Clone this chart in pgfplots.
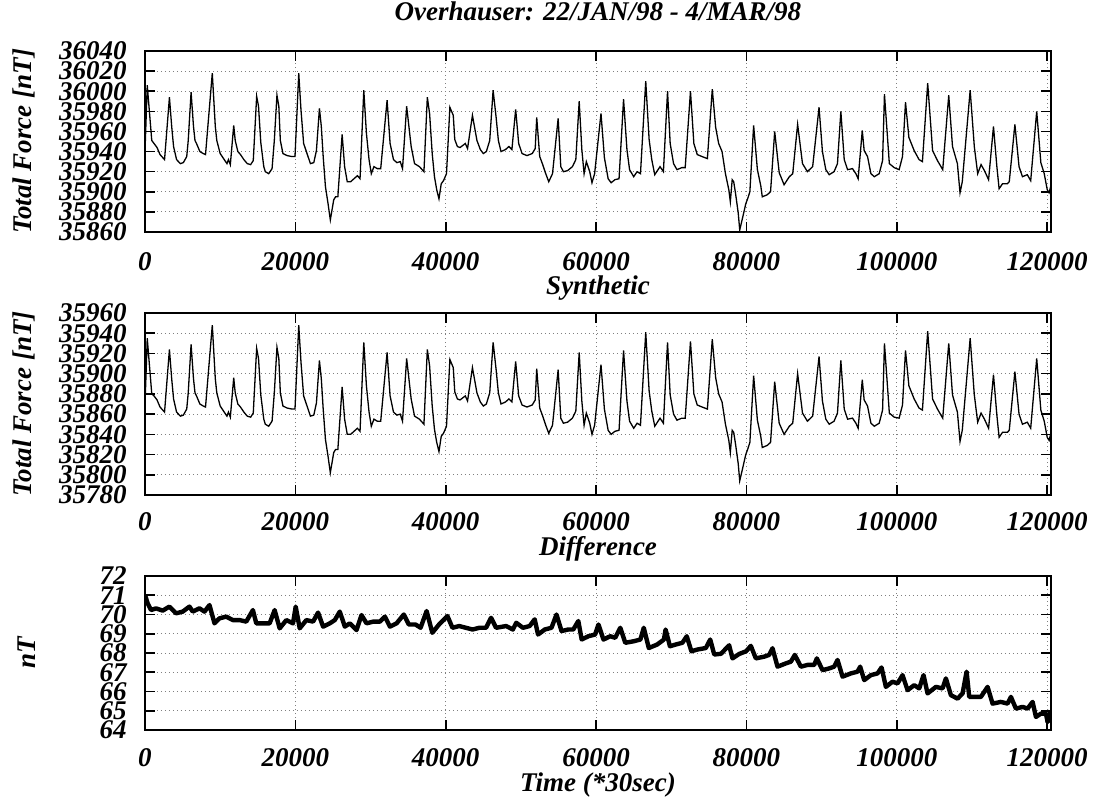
\documentclass[border=0pt]{standalone}
\usepackage{fontspec}
\setmainfont{Liberation Serif}
\usepackage{pgfplots}
\usepackage{pgfplotstable}
\pgfplotsset{compat=1.18}

% Total force (top panel)
\pgfplotstableread{
x y
0 35940
300 36006
900 35951
1200 35948
1600 35944
2000 35937
2600 35932
3250 35994
3550 35965
3800 35945
4200 35932
4700 35928
5100 35929
5550 35935
5750 35951
6130 35999
6450 35965
6650 35951
6850 35948
7300 35940
7750 35938
8050 35937
8950 36018
9350 35965
9550 35951
10000 35938
10450 35933
10900 35928
11100 35932
11350 35927
11800 35966
12000 35951
12350 35940
12700 35937
13150 35932
13600 35928
14050 35927
14400 35931
14850 35995
15100 35985
15400 35949
15800 35925
16000 35920
16450 35918
16900 35923
17200 35951
17550 35996
17800 35985
18000 35951
18350 35938
18900 35936
19550 35935
19950 35935
20450 36018
20750 35981
21100 35948
21550 35938
22000 35928
22450 35929
22800 35941
23200 35983
23450 35965
23700 35935
24000 35905
24350 35888
24650 35872
25100 35892
25350 35895
25650 35895
26220 35957
26550 35925
26900 35910
27350 35910
27800 35913
28250 35916
28600 35913
29100 36001
29450 35958
29800 35932
30100 35918
30450 35925
30900 35923
31350 35923
31700 35951
32200 35991
32600 35948
33050 35932
33500 35929
33950 35930
34250 35923
34800 35985
35400 35945
35850 35928
36500 35925
37100 35920
37550 35994
37850 35978
38200 35938
38500 35915
38800 35902
39100 35893
39400 35908
39700 35911
40100 35918
40550 35984
41000 35976
41200 35952
41550 35945
41900 35944
42600 35948
42900 35943
43550 35976
44150 35951
44600 35942
45000 35938
45400 35940
45850 35951
46300 36001
46700 35974
47000 35951
47350 35940
47950 35942
48400 35945
48800 35942
49300 35982
49700 35948
50150 35938
50800 35936
51500 35938
51900 35943
52100 35974
52500 35935
52850 35928
53300 35918
53700 35910
54200 35918
54950 35973
55300 35925
55650 35920
56200 35921
56850 35925
57300 35932
57750 35990
58100 35942
58400 35918
58700 35930
59150 35920
59450 35909
59800 35918
60650 35978
61100 35934
61600 35913
62000 35909
62500 35912
63050 35913
63650 35992
64100 35942
64450 35922
65000 35915
65450 35920
65900 35918
66600 36010
67050 35952
67400 35932
67800 35917
68500 35925
68950 35920
69500 36000
69850 35948
70300 35928
70750 35922
71400 35924
71850 35924
72550 36000
73000 35948
73450 35937
74100 35935
74800 35933
75450 36002
75900 35964
76300 35948
76750 35940
77200 35918
77650 35902
77850 35890
78100 35912
78300 35910
78550 35898
78900 35879
79100 35862
79600 35878
79900 35888
80150 35893
80450 35900
80950 35966
81450 35922
81900 35906
82100 35895
82750 35897
83200 35900
83750 35960
84350 35919
85000 35907
85700 35915
86150 35918
86800 35967
87450 35928
88100 35920
88800 35925
89650 35984
90100 35940
90550 35922
91000 35917
91650 35920
92100 35928
92550 35980
93000 35932
93450 35922
94100 35923
94550 35918
94850 35913
95400 35961
95650 35941
96100 35935
96550 35918
97000 35915
97650 35918
98100 35931
98350 35997
99000 35928
99650 35924
100300 35922
100750 35935
101150 35989
101600 35954
102300 35941
102950 35932
103400 35930
104100 36008
104750 35941
105400 35931
106100 35922
106900 35996
107400 35945
108050 35928
108400 35899
108700 35910
109750 36001
110300 35945
110750 35918
111200 35927
111650 35921
112200 35912
112850 35965
113300 35925
113600 35903
114050 35908
114700 35908
114950 35910
115700 35967
116250 35925
116700 35915
117350 35917
117800 35911
118600 35980
119150 35929
119600 35918
120000 35902
120250 35899
120450 35905
}\overhauser

% Synthetic (middle panel)
\pgfplotstableread{
x y
0 35869
300 35935
900 35880
1200 35878
1600 35874
2000 35867
2600 35862
3250 35924
3550 35895
3800 35875
4200 35862
4700 35858
5100 35859
5550 35865
5750 35881
6130 35929
6450 35895
6650 35881
6850 35878
7300 35870
7750 35868
8050 35867
8950 35948
9350 35895
9550 35881
10000 35868
10450 35863
10900 35858
11100 35862
11350 35857
11800 35896
12000 35881
12350 35870
12700 35867
13150 35862
13600 35858
14050 35857
14400 35861
14850 35925
15100 35915
15400 35879
15800 35855
16000 35850
16450 35848
16900 35853
17200 35881
17550 35926
17800 35915
18000 35881
18350 35868
18900 35866
19550 35865
19950 35865
20450 35948
20750 35911
21100 35878
21550 35868
22000 35858
22450 35859
22800 35871
23200 35913
23450 35895
23700 35865
24000 35835
24350 35818
24650 35802
25100 35822
25350 35825
25650 35825
26220 35887
26550 35855
26900 35840
27350 35840
27800 35843
28250 35846
28600 35843
29100 35931
29450 35888
29800 35862
30100 35848
30450 35855
30900 35853
31350 35853
31700 35881
32200 35921
32600 35878
33050 35862
33500 35859
33950 35860
34250 35853
34800 35915
35400 35875
35850 35858
36500 35855
37100 35850
37550 35924
37850 35908
38200 35868
38500 35845
38800 35832
39100 35823
39400 35838
39700 35841
40100 35848
40550 35914
41000 35906
41200 35882
41550 35875
41900 35874
42600 35878
42900 35873
43550 35906
44150 35881
44600 35872
45000 35868
45400 35870
45850 35881
46300 35931
46700 35904
47000 35881
47350 35870
47950 35872
48400 35875
48800 35872
49300 35912
49700 35878
50150 35869
50800 35867
51500 35869
51900 35874
52100 35905
52500 35866
52850 35859
53300 35849
53700 35841
54200 35849
54950 35904
55300 35856
55650 35851
56200 35852
56850 35856
57300 35863
57750 35921
58100 35873
58400 35849
58700 35861
59150 35851
59450 35840
59800 35849
60650 35909
61100 35865
61600 35844
62000 35840
62500 35843
63050 35844
63650 35923
64100 35873
64450 35853
65000 35846
65450 35851
65900 35849
66600 35941
67050 35883
67400 35863
67800 35848
68500 35856
68950 35851
69500 35931
69850 35879
70300 35860
70750 35854
71400 35856
71850 35856
72550 35932
73000 35880
73450 35869
74100 35867
74800 35865
75450 35934
75900 35896
76300 35880
76750 35872
77200 35850
77650 35834
77850 35822
78100 35844
78300 35842
78550 35830
78900 35811
79100 35794
79600 35810
79900 35820
80150 35825
80450 35832
80950 35898
81450 35854
81900 35838
82100 35827
82750 35829
83200 35832
83750 35892
84350 35851
85000 35840
85700 35848
86150 35851
86800 35900
87450 35861
88100 35853
88800 35858
89650 35917
90100 35873
90550 35855
91000 35850
91650 35853
92100 35861
92550 35913
93000 35865
93450 35855
94100 35856
94550 35851
94850 35846
95400 35894
95650 35874
96100 35868
96550 35851
97000 35848
97650 35851
98100 35864
98350 35930
99000 35861
99650 35857
100300 35856
100750 35869
101150 35923
101600 35888
102300 35875
102950 35866
103400 35864
104100 35942
104750 35875
105400 35865
106100 35856
106900 35930
107400 35879
108050 35862
108400 35833
108700 35844
109750 35935
110300 35879
110750 35852
111200 35861
111650 35855
112200 35846
112850 35899
113300 35859
113600 35837
114050 35842
114700 35842
114950 35844
115700 35902
116250 35860
116700 35850
117350 35852
117800 35846
118600 35915
119150 35864
119600 35853
120000 35837
120250 35834
120450 35840
}\synthetic

% Difference (bottom panel)
\pgfplotstableread{
x y
0 71.01
356 70.58
800 70.23
1467 70.32
2355 70.20
3244 70.41
4133 70.06
5022 70.15
5911 70.41
6355 70.15
7244 70.32
7911 70.15
8577 70.49
9244 69.54
9910 69.80
10799 69.89
11688 69.71
12577 69.71
13466 69.63
14354 70.23
14799 69.54
15687 69.54
16576 69.54
17243 70.23
17910 69.28
18798 69.71
19687 69.54
20043 70.41
20576 69.28
21465 69.71
22353 69.63
23020 70.10
23687 69.37
24575 69.54
25242 69.71
25909 70.15
26575 69.37
27242 69.54
28131 69.19
28797 69.97
29464 69.54
30353 69.63
31241 69.63
31908 69.89
32575 69.37
33463 69.54
34420 70.00
35090 69.48
35982 69.48
36652 69.31
37456 70.18
38214 69.05
39107 69.48
40223 69.92
40893 69.31
41786 69.40
42678 69.31
43571 69.22
44464 69.31
45357 69.31
46026 69.83
46696 69.31
48035 69.40
48928 69.22
49374 69.57
50267 69.31
51160 69.40
51830 69.75
52276 68.96
53169 69.22
54062 69.31
54731 70.00
55401 69.14
56294 69.22
56963 69.22
57633 69.66
58079 68.70
58972 68.87
59865 68.96
60311 69.48
60981 68.70
61874 68.87
62543 68.79
63213 69.31
63882 68.53
65000 68.61
65891 68.70
66338 69.31
67007 68.26
68123 68.44
69016 68.70
69239 69.22
69820 68.35
70578 68.44
71471 68.53
72052 68.87
72677 68.09
73480 68.18
74596 68.26
75176 68.70
75712 67.92
76605 67.96
77694 68.40
78137 67.72
79024 67.95
79953 68.09
80577 68.37
81242 67.72
82351 67.81
83016 67.90
83459 68.25
84125 67.29
85233 67.46
85899 67.55
86431 67.90
87229 67.29
88116 67.38
89003 67.38
89358 67.72
90112 67.11
90999 67.20
91664 67.29
92108 67.64
92773 66.77
93882 66.94
94769 67.03
95124 67.29
95656 66.59
96543 66.85
97430 66.94
97962 67.25
98538 66.24
99425 66.51
100091 66.42
100756 66.85
101421 66.07
102308 66.33
102974 66.16
103550 66.85
104083 65.90
105191 66.24
106078 66.16
106522 66.68
107187 65.81
108074 65.63
108740 65.90
109272 67.03
109626 65.72
110291 65.72
111178 65.72
112065 66.24
112730 65.37
113839 65.46
114726 65.37
115170 65.72
115835 65.11
116722 65.20
117387 65.11
118053 65.46
118497 64.68
119162 64.85
119827 64.85
120049 64.41
120404 65.02
}\difference

\newcommand{\chartfont}{\bfseries\itshape\fontsize{13.5}{14}\selectfont}

\pgfplotsset{
  panel/.style={
    scale only axis,
    width=453pt,
    xmin=0, xmax=120500,
    xtick={0,20000,40000,60000,80000,100000,120000},
    scaled x ticks=false, scaled y ticks=false,
    /pgf/number format/fixed,
    /pgf/number format/precision=0,
    /pgf/number format/1000 sep={},
    /pgf/number format/assume math mode=true,
    tick label style={font=\chartfont},
    label style={font=\chartfont},
    axis line style={line width=1pt},
    tick style={line width=0.8pt, black},
    tick align=inside, tick pos=both,
    major tick length=5pt,
    grid=major,
    grid style={dash pattern=on 0.6pt off 1.4pt, gray, line width=0.5pt},
    yticklabel style={anchor=east, inner xsep=0pt, xshift=-9pt},
  },
}

\begin{document}
\begin{tikzpicture}
\useasboundingbox (0,0) rectangle (547pt,400pt);

\begin{axis}[panel,
  at={(72.5pt,284pt)}, anchor=south west,
  height=90.5pt,
  ymin=35860, ymax=36040,
  ytick={35860,35880,...,36040},
  xticklabel style={anchor=center, yshift=-15pt},
  title={Overhauser: 22/JAN/98 - 4/MAR/98},
  title style={font=\chartfont, at={(axis description cs:0.5,1)}, anchor=center, yshift=14pt},
  ylabel={Total Force [nT]},
  ylabel style={at={(axis description cs:-0.1336,0.5)}, anchor=center},
  xlabel={Synthetic},
  xlabel style={at={(axis description cs:0.5,0)}, anchor=center, yshift=-28pt},
]
\addplot[black, line width=0.65pt] table[x=x, y=y] {\overhauser};
\end{axis}

\begin{axis}[panel,
  at={(72.5pt,152.5pt)}, anchor=south west,
  height=91pt,
  ymin=35780, ymax=35960,
  ytick={35780,35800,...,35960},
  xticklabel style={anchor=center, yshift=-13.5pt},
  ylabel={Total Force [nT]},
  ylabel style={at={(axis description cs:-0.1336,0.5)}, anchor=center},
  xlabel={Difference},
  xlabel style={at={(axis description cs:0.5,0)}, anchor=center, yshift=-27pt},
]
\addplot[black, line width=0.65pt] table[x=x, y=y] {\synthetic};
\end{axis}

\begin{axis}[panel,
  at={(72.5pt,35pt)}, anchor=south west,
  height=77pt,
  ymin=64, ymax=72,
  ytick={64,65,...,72},
  xticklabel style={anchor=center, yshift=-14pt},
  ylabel={nT},
  ylabel style={at={(axis description cs:-0.131,0.5)}, anchor=center},
  xlabel={Time (*30sec)},
  xlabel style={at={(axis description cs:0.5,0)}, anchor=center, yshift=-27.5pt},
]
\addplot[black, line width=2.2pt, line join=round] table[x=x, y=y] {\difference};
\end{axis}
\end{tikzpicture}
\end{document}
